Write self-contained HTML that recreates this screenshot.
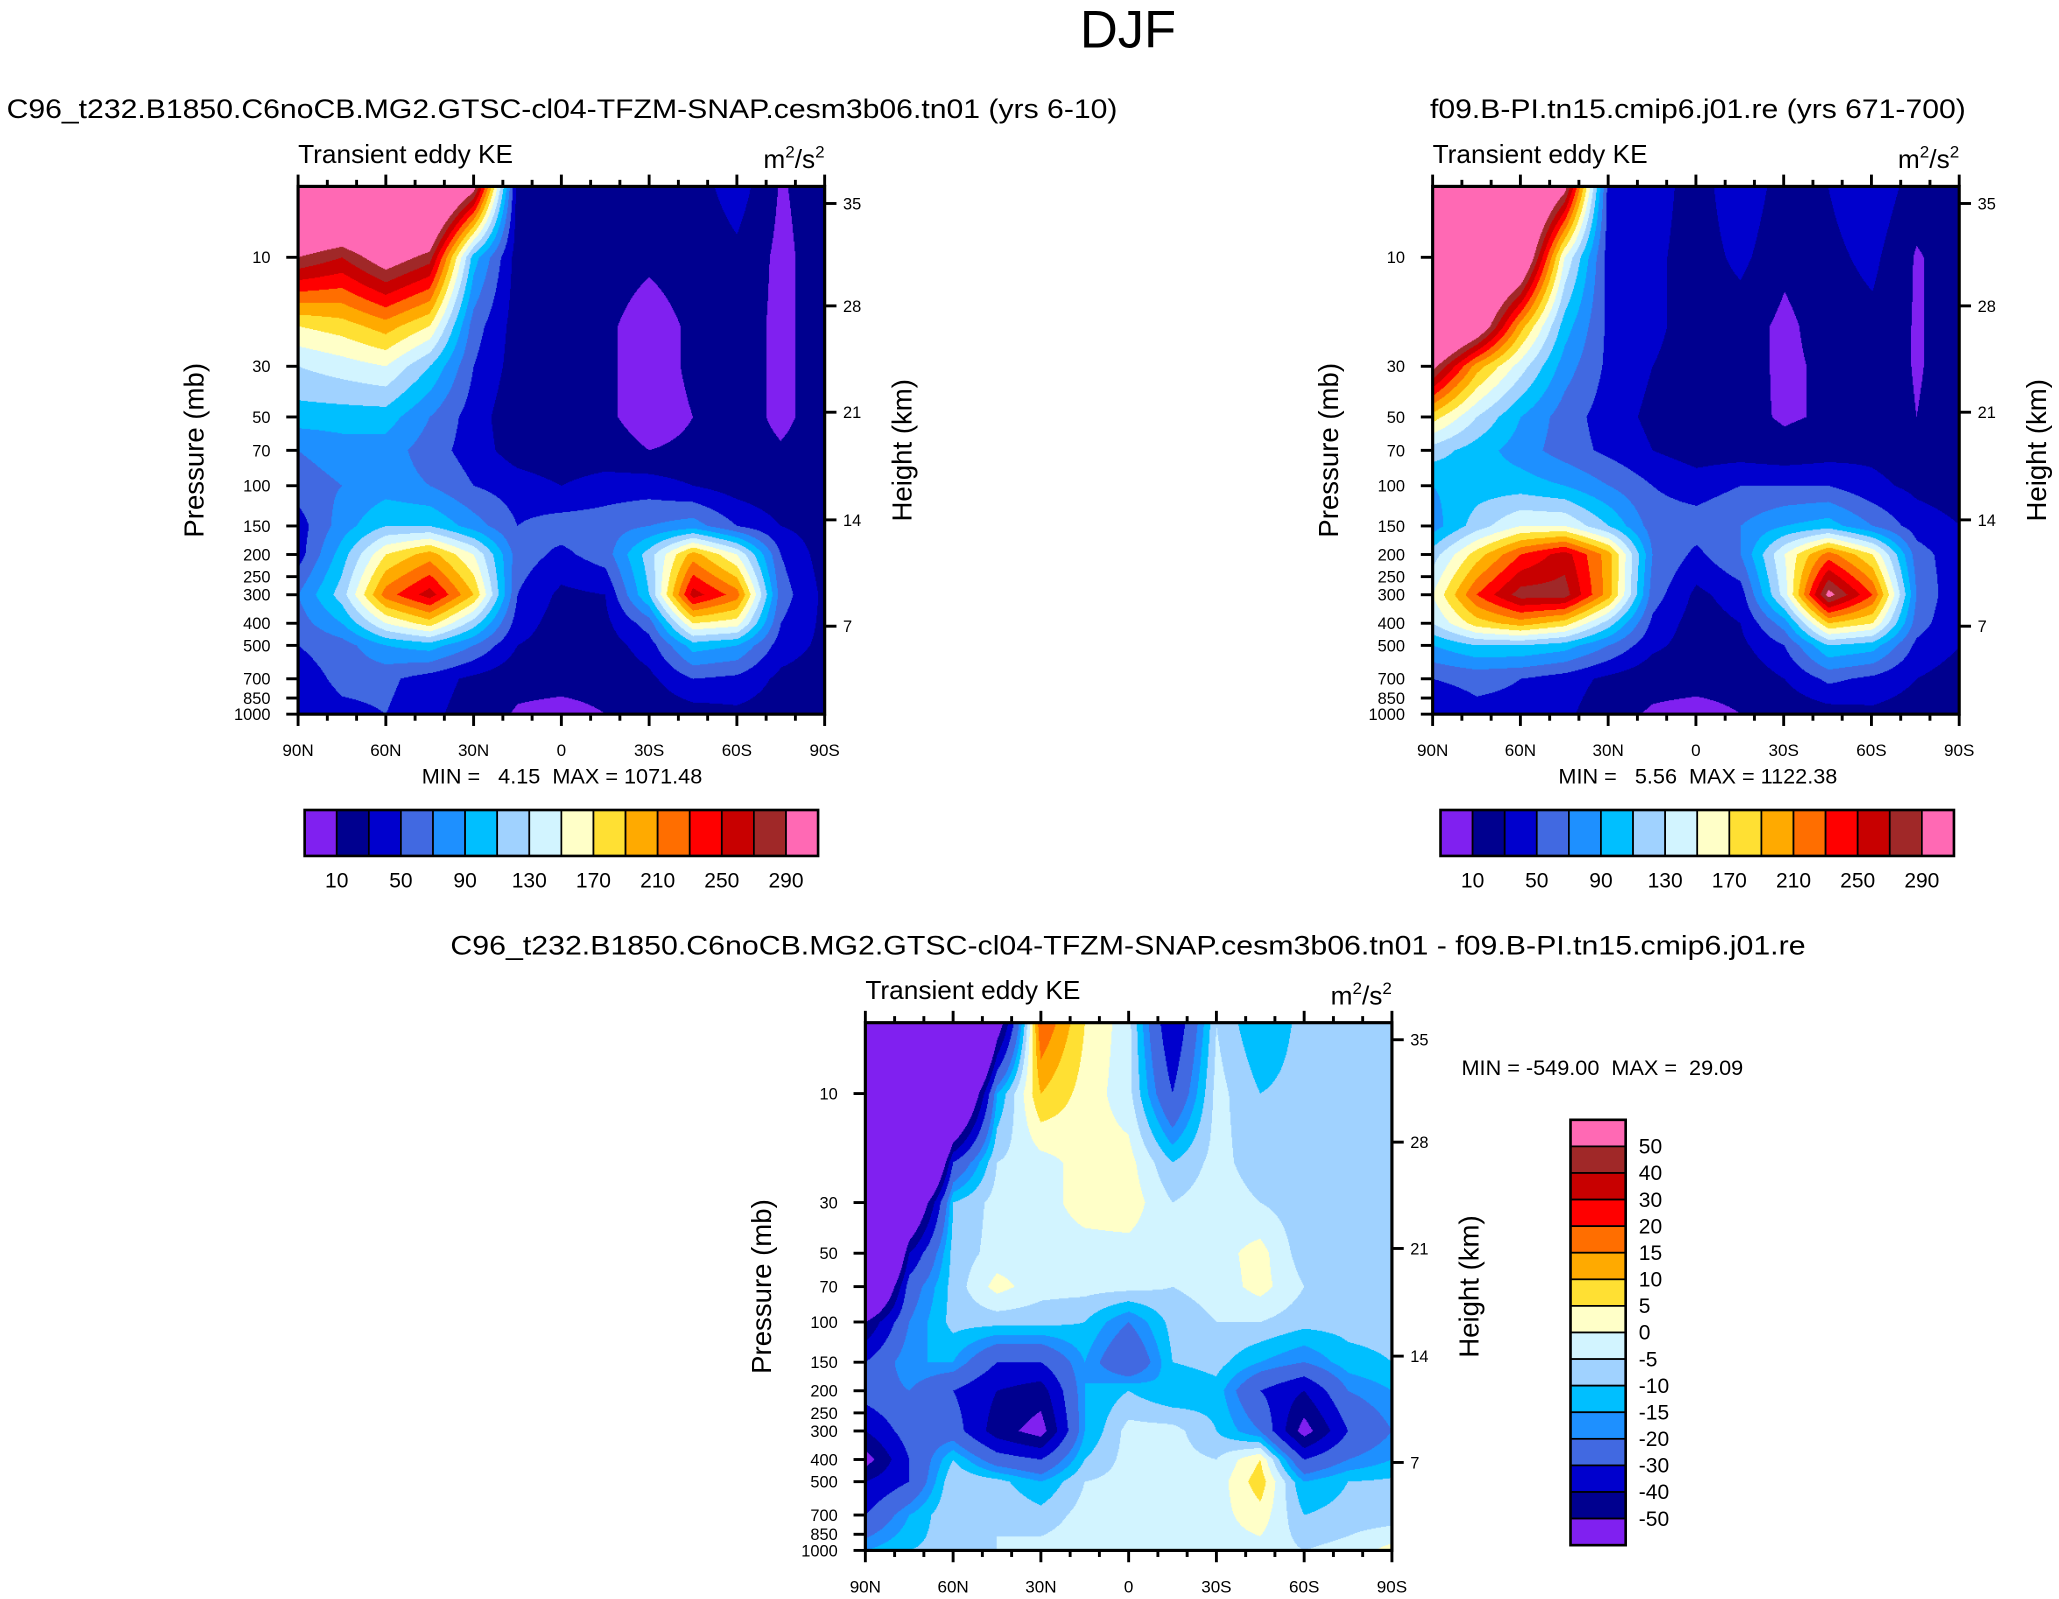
<!DOCTYPE html>
<html><head><meta charset="utf-8"><style>
html,body{margin:0;padding:0;background:#fff;}
#root{position:absolute;left:0;top:0;width:1568px;height:1218px;transform:scale(1.31314,1.3128);transform-origin:0 0;font-family:"Liberation Sans",sans-serif;}
canvas{position:absolute;}
svg{position:absolute;left:0;top:0;}
svg text{white-space:pre;}
</style></head><body>
<div id="root">
<canvas id="c0" style="left:227px;top:142px;width:401px;height:402px"></canvas>
<canvas id="c1" style="left:1091px;top:142px;width:402px;height:402px"></canvas>
<canvas id="c2" style="left:659px;top:779px;width:401px;height:402px"></canvas>
<svg id="ov" width="1568" height="1218" viewBox="0 0 1568 1218"></svg>
</div>
<script>
const lats=[90,75,60,45,30,15,0,-15,-30,-45,-60,-75,-90];
const pres=[5,10,20,30,50,70,100,150,200,300,400,500,700,1000];
const levelsKE=[10,30,50,70,90,110,130,150,170,190,210,230,250,270,290];
const levelsDiff=[-50,-40,-30,-20,-15,-10,-5,0,5,10,15,20,30,40,50];
const labelsKE=["10","50","90","130","170","210","250","290"];
const labelsDiff=["50","40","30","20","15","10","5","0","-5","-10","-15","-20","-30","-40","-50"];
const presTicks=[10,30,50,70,100,150,200,250,300,400,500,700,850,1000];
const heightTicks=[35,28,21,14,7];
const heightTickY=[155,233,314,396,477];
const latTickLabels=["90N","60N","30N","0","30S","60S","90S"];
const colors=['#8020f0','#00008f','#0000cd','#4169e1','#1e90ff','#00bfff','#a0d2ff','#d2f4ff','#ffffc8','#ffe033','#ffaa00','#ff6e00','#ff0000','#c80000','#a02828','#ff69b4'];
const dataLeft=[
[400,400,400,400,300,20,15,15,15,20,40,8,20],
[290,270,310,280,100,20,15,15,12,15,25,5,20],
[170,180,200,170,60,20,15,12,5,12,20,5,20],
[130,140,150,110,50,20,15,12,5,12,20,5,20],
[100,100,100,70,40,15,10,12,5,10,20,5,20],
[70,80,80,60,40,20,15,15,10,12,20,12,20],
[60,70,80,70,50,40,30,40,40,30,20,15,20],
[40,80,110,110,80,50,60,60,70,80,50,30,20],
[40,100,170,200,150,60,45,60,120,200,150,50,20],
[70,120,220,260,190,50,25,30,110,260,220,60,25],
[60,90,150,180,120,40,20,25,60,170,160,50,25],
[50,60,90,100,70,30,20,20,40,100,90,40,25],
[40,55,55,40,25,15,15,15,25,50,45,25,20],
[35,45,50,35,20,8,5,10,15,20,25,20,10]];
const dataRight=[
[400,400,400,300,40,40,20,45,20,30,45,20,20],
[400,400,350,150,40,35,20,35,15,25,35,8,20],
[400,330,200,100,45,35,20,20,5,20,25,8,20],
[300,200,140,80,45,30,20,20,5,15,25,8,20],
[180,130,90,60,40,25,15,15,8,12,25,10,20],
[120,100,80,60,45,30,20,20,15,20,25,20,20],
[90,100,100,90,70,50,40,50,50,50,35,25,20],
[80,120,150,150,110,60,60,70,90,100,70,40,30],
[120,180,230,260,200,70,45,70,150,220,170,60,35],
[150,230,280,280,200,60,25,40,140,300,230,70,30],
[130,180,200,180,120,45,20,30,80,190,170,60,30],
[90,110,110,100,70,35,20,25,50,110,100,45,30],
[50,55,50,40,25,15,15,15,30,55,45,30,20],
[35,45,45,35,15,8,5,10,15,20,25,20,10]];
const dataDiff=[
[-300,-300,-200,-60,20,5,-3,-40,-5,-15,-8,-8,-8],
[-300,-250,-100,-15,10,3,-3,-30,-3,-10,-8,-8,-8],
[-250,-150,-30,-5,-2,2,2,-10,-3,-8,-8,-8,-8],
[-200,-80,-10,-3,-2,2,3,-5,-2,-5,-8,-8,-8],
[-150,-40,-8,-3,-2,-2,-2,-3,-2,2,-8,-9,-8],
[-100,-25,-8,2,-3,-3,-3,-5,-3,2,-5,-8,-8],
[-50,-20,-8,-8,-8,-10,-20,-8,-5,-5,-8,-8,-8],
[-30,-15,-15,-30,-30,-15,-30,-10,-8,-15,-20,-12,-10],
[-25,-20,-30,-40,-45,-15,-10,-15,-12,-30,-40,-20,-15],
[-40,-25,-25,-45,-55,-15,-3,-3,-10,-20,-55,-30,-20],
[-55,-30,-10,-25,-30,-10,-3,-3,-5,5,-30,-20,-15],
[-40,-30,-5,-8,-15,-5,-3,-3,-3,8,-15,-10,-9],
[-30,-15,-5,-5,-8,-3,-3,-3,-2,3,-10,-8,-8],
[-15,-10,-8,-5,-3,-2,-2,-2,-2,-2,-5,-3,2]];

const W=401,H=402;
function xOf(lat,x0){return x0+(90-lat)/180*W;}
function yOf(p,y0){return y0+H-174*Math.log10(1000/p);}
function latAt(fx){return 90-fx*180;}
function pAt(py){return 1000/Math.pow(10,(H-py)/174);}
function interp(data,lat,p){
  let li=(90-lat)/15; li=Math.max(0,Math.min(lats.length-1.0001,li));
  const lp=Math.log10(Math.max(pres[0],Math.min(1000,p)));
  let r=0; while(r<pres.length-2 && Math.log10(pres[r+1])<lp) r++;
  const a=Math.log10(pres[r]),b=Math.log10(pres[r+1]);
  const t=Math.max(0,Math.min(1,(lp-a)/(b-a)));
  const c=Math.floor(li),u=li-c;
  const v00=data[r][c],v01=data[r][c+1],v10=data[r+1][c],v11=data[r+1][c+1];
  return (v00*(1-u)+v01*u)*(1-t)+(v10*(1-u)+v11*u)*t;
}
function level(v,lv){let k=0;while(k<lv.length&&v>=lv[k])k++;return k;}
function drawPanel(id,data,lv){
  const cv=document.getElementById(id),S=3;
  cv.width=W*S;cv.height=H*S;
  const ctx=cv.getContext('2d');const st=2;
  for(let py=0;py<H*S;py+=st){for(let px=0;px<W*S;px+=st){
    const v=interp(data,latAt((px+1)/(W*S)),pAt((py+1)/S));
    ctx.fillStyle=colors[level(v,lv)];ctx.fillRect(px,py,st,st);}}
}
drawPanel('c0',dataLeft,levelsKE);
drawPanel('c1',dataRight,levelsKE);
drawPanel('c2',dataDiff,levelsDiff);

const ov=document.getElementById('ov');const NS='http://www.w3.org/2000/svg';
function el(tag,attrs,parent){const e=document.createElementNS(NS,tag);for(const k in attrs)e.setAttribute(k,attrs[k]);(parent||ov).appendChild(e);return e;}
function txt(x,y,s,size,anchor,name,parent){const t=el('text',{x:x,y:y,'font-size':size,'text-anchor':anchor||'middle','font-family':'Liberation Sans, sans-serif',fill:'#000'},parent);t.textContent=s;


return t;}

function axes(x0,y0,prefix){
  const g=el('g',{});
  
  
  el('rect',{x:x0,y:y0,width:W,height:H,fill:'none',stroke:'#000','stroke-width':2.4},g);
  for(let lat=90;lat>=-90;lat-=10){const x=xOf(lat,x0);const major=lat%30===0;const L=major?9:5;
    el('line',{x1:x,y1:y0+H,x2:x,y2:y0+H+L,stroke:'#000','stroke-width':2.2},g);
    el('line',{x1:x,y1:y0,x2:x,y2:y0-L,stroke:'#000','stroke-width':2.2},g);}
  latTickLabels.forEach((s,i)=>txt(xOf(90-30*i,x0),y0+H+32,s,13,'middle',prefix+'-x-tick-label',g));
  presTicks.forEach(p=>{const y=yOf(p,y0);el('line',{x1:x0,y1:y,x2:x0-9,y2:y,stroke:'#000','stroke-width':2.2},g);
    txt(x0-21,y+4.5,String(p),12.5,'end',prefix+'-y-tick-label',g);});
  heightTicks.forEach((h,i)=>{const y=heightTickY[i]+(y0-142);el('line',{x1:x0+W,y1:y,x2:x0+W+9,y2:y,stroke:'#000','stroke-width':2.2},g);
    txt(x0+W+14,y+4.5,String(h),12.5,'start',prefix+'-height-tick-label',g);});
  const t1=txt(0,0,'Pressure (mb)',21,'middle',prefix+'-y-axis-title',g);t1.setAttribute('transform','translate('+(x0-72)+','+(y0+H/2)+') rotate(-90)');
  const t2=txt(0,0,'Height (km)',21,'middle',prefix+'-right-axis-title',g);t2.setAttribute('transform','translate('+(x0+W+66)+','+(y0+H/2)+') rotate(-90)');
  txt(x0,y0-18,'Transient eddy KE',20,'start',prefix+'-variable-label',g);
  const u=txt(x0+W,y0-14,'',20,'end',prefix+'-units-label',g);
  u.innerHTML='m<tspan dy="-8" font-size="13">2</tspan><tspan dy="8">/s</tspan><tspan dy="-8" font-size="13">2</tspan>';
}
axes(227,142,'left');axes(1091,142,'right');axes(659,779,'diff');

txt(859,36,'DJF',40,'middle','figure-title');
const tl=txt(428,90,'C96_t232.B1850.C6noCB.MG2.GTSC-cl04-TFZM-SNAP.cesm3b06.tn01 (yrs 6-10)',20.5,'middle','left-panel-title');
tl.setAttribute('textLength','846');tl.setAttribute('lengthAdjust','spacingAndGlyphs');
const tr=txt(1293,90,'f09.B-PI.tn15.cmip6.j01.re (yrs 671-700)',20.5,'middle','right-panel-title');
tr.setAttribute('textLength','408');tr.setAttribute('lengthAdjust','spacingAndGlyphs');
const td=txt(859,727,'C96_t232.B1850.C6noCB.MG2.GTSC-cl04-TFZM-SNAP.cesm3b06.tn01 - f09.B-PI.tn15.cmip6.j01.re',20.5,'middle','diff-panel-title');
td.setAttribute('textLength','1032');td.setAttribute('lengthAdjust','spacingAndGlyphs');
txt(428,597,'MIN =   4.15  MAX = 1071.48',16.5,'middle','left-min-max');
txt(1293,597,'MIN =   5.56  MAX = 1122.38',16.5,'middle','right-min-max');
txt(1113,819,'MIN = -549.00  MAX =  29.09',16.5,'start','diff-min-max');

function hbar(x0,prefix){const y0=617,w=(623-232)/16,h=35;
  colors.forEach((c,i)=>{const r=el('rect',{x:x0+i*w,y:y0,width:w,height:h,fill:c,stroke:'#000','stroke-width':1.3});
    
    });
  el('rect',{x:x0,y:y0,width:w*16,height:h,fill:'none',stroke:'#000','stroke-width':2});
  labelsKE.forEach((s,i)=>txt(x0+w*(1+2*i),y0+h+24,s,16,'middle',prefix+'-colorbar-label'));
}
hbar(232,'left');hbar(1097,'right');
(function(){const x0=1196,y0=853,w=42,h=(1177-853)/16;
  for(let i=0;i<16;i++){const r=el('rect',{x:x0,y:y0+i*h,width:w,height:h,fill:colors[15-i],stroke:'#000','stroke-width':1.3});
    
    }
  el('rect',{x:x0,y:y0,width:w,height:h*16,fill:'none',stroke:'#000','stroke-width':2});
  labelsDiff.forEach((s,i)=>txt(x0+w+10,y0+h*(i+1)+5.5,s,16,'start','diff-colorbar-label'));
})();
</script>
</body></html>
